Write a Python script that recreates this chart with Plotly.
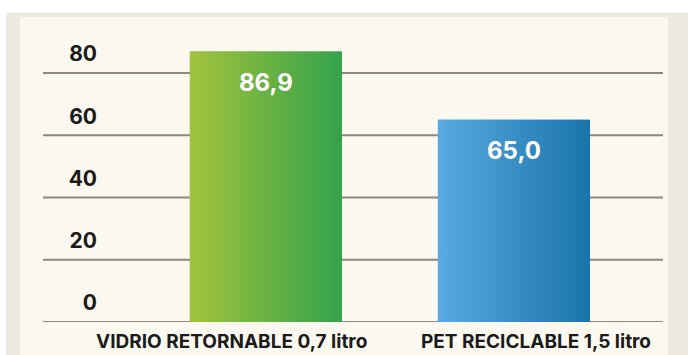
import plotly.graph_objects as go

categories = ["VIDRIO RETORNABLE 0,7 litro", "PET RECICLABLE 1,5 litro"]
values = [86.9, 65.0]
value_labels = ["86,9", "65,0"]
y_ticks = [0, 20, 40, 60, 80]
y_tick_labels = ["0", "20", "40", "60", "80"]

bar_solid = ["#6cb142", "#2a8ec6"]
bar_grad = [
    [[0, "#a2c23b"], [1, "#33a34b"]],
    [[0, "#58aae0"], [1, "#1a74aa"]],
]
label_shift = [-34, 22]

W, H = 688, 355
ML, MR, MT, MB = 98, 25, 36, 33
pw, ph = W - ML - MR, H - MT - MB
BW = 0.613

def px(x):
    return (x - ML) / pw

def py(y):
    return (H - MB - y) / ph

FONT = "Inter"

fig = go.Figure()

fig.add_trace(go.Bar(
    x=list(range(len(categories))), y=values, width=BW,
    marker=dict(color=bar_solid, line=dict(width=0)),
    hoverinfo="skip", showlegend=False,
))

for i, v in enumerate(values):
    fig.add_trace(go.Scatter(
        x=[i - BW / 2, i + BW / 2, i + BW / 2, i - BW / 2, i - BW / 2],
        y=[0, 0, v, v, 0],
        mode="lines", line=dict(width=0),
        fill="toself",
        fillgradient=dict(type="horizontal", colorscale=bar_grad[i]),
        hoverinfo="skip", showlegend=False,
    ))
    fig.add_annotation(
        x=i, y=v, xref="x", yref="y", text=value_labels[i],
        showarrow=False, yanchor="top", yshift=-14,
        font=dict(family=FONT, size=24, color="white", weight=700),
    )
    fig.add_annotation(
        x=i, y=py(341), xref="x", yref="paper", text=categories[i],
        showarrow=False, yanchor="middle", xshift=label_shift[i],
        font=dict(family=FONT, size=19, color="#1b1b1b", weight=700),
    )

shapes = [
    dict(type="rect", xref="paper", yref="paper", layer="below",
         x0=px(6), x1=px(W), y0=py(H), y1=py(13),
         fillcolor="#ece9de", line=dict(width=0)),
    dict(type="rect", xref="paper", yref="paper", layer="below",
         x0=px(20), x1=px(668), y0=py(H), y1=py(17),
         fillcolor="#faf8ef", line=dict(width=0)),
]
for t in y_ticks:
    shapes.append(dict(type="line", xref="paper", yref="y", layer="below",
                       x0=px(43), x1=1, y0=t, y1=t,
                       line=dict(color="#8c897e", width=2)))
fig.update_layout(shapes=shapes)

fig.update_layout(
    width=W, height=H,
    margin=dict(l=ML, r=MR, t=MT, b=MB, autoexpand=False),
    paper_bgcolor="white", plot_bgcolor="rgba(0,0,0,0)",
    showlegend=False,
    xaxis=dict(range=[-0.677, 1.601], showgrid=False, zeroline=False,
               showticklabels=False, showline=False, fixedrange=True,
               automargin=False),
    yaxis=dict(range=[0, ph / 3.1125], tickvals=y_ticks, ticktext=y_tick_labels,
               showgrid=False, zeroline=False, showline=False, ticks="",
               ticklabelshift=-19, automargin=False,
               tickfont=dict(family=FONT, size=21, color="#1b1b1b", weight=700)),
)

fig.write_html("out.html")
